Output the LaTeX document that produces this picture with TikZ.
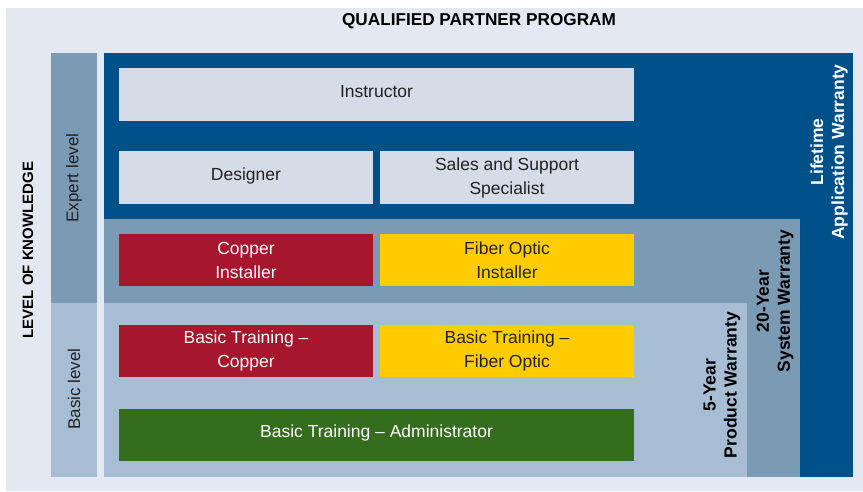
\documentclass[tikz,border=0pt]{standalone}
\usepackage{fontspec}
\setmainfont{Liberation Sans}
\definecolor{qppback}{HTML}{E4E8F0}
\definecolor{qppdark}{HTML}{00508A}
\definecolor{qppmid}{HTML}{7B9AB4}
\definecolor{qpplight}{HTML}{A6BDD3}
\definecolor{qppgrey}{HTML}{D5DCE7}
\definecolor{qppred}{HTML}{A6162D}
\definecolor{qppyellow}{HTML}{FFCC00}
\definecolor{qppgreen}{HTML}{356D1E}
\definecolor{qpptext}{HTML}{222222}

\begin{document}
\begin{tikzpicture}[x=1pt,y=-1pt,
		tile/.style={inner sep=0pt,align=center,minimum height=53pt,
			font=\fontsize{17.5}{24}\selectfont},
		half/.style={tile,minimum width=254pt},
		full/.style={tile,minimum width=515pt},
		oneline/.style={text depth=7pt},
		warranty/.style={rotate=90,align=center,font=\bfseries\fontsize{17.5}{21}\selectfont},
		level/.style={rotate=90,font=\fontsize{17}{20}\selectfont,text=qpptext}]
	\useasboundingbox (0,0) rectangle (863,491);
	\fill[qppback] (6,8) rectangle (863,491);
	\fill[qppmid] (51,53) rectangle (97,303);
	\fill[qpplight] (51,303) rectangle (97,477);
	\fill[qppdark] (104,53) rectangle (853,477);
	\fill[qppmid] (104,219) rectangle (800,477);
	\fill[qpplight] (104,303) rectangle (747,477);

	\node[font=\bfseries\fontsize{17.2}{20}\selectfont] (title) at (479,21) {QUALIFIED PARTNER PROGRAM};
	\node[rotate=90,font=\bfseries\fontsize{15}{18}\selectfont] (knowledge) at (28,250) {LEVEL OF KNOWLEDGE};
	\node[level] (expert) at (74,178) {Expert level};
	\node[level] (basic) at (74,389) {Basic level};

	\node[full,oneline,fill=qppgrey,text=qpptext] (instructor) at (376.5,94.5) {Instructor};
	\node[half,oneline,fill=qppgrey,text=qpptext] (designer) at (246,177.5) {Designer};
	\node[half,fill=qppgrey,text=qpptext] (sales) at (507,177.5) {Sales and Support\\Specialist};
	\node[half,fill=qppred,text=white,minimum height=52pt] (copper) at (246,260) {Copper\\Installer};
	\node[half,fill=qppyellow,text=qpptext,minimum height=52pt] (fiber) at (507,260) {Fiber Optic\\Installer};
	\node[half,fill=qppred,text=white,minimum height=52pt] (basiccopper) at (246,351) {Basic Training --\\Copper};
	\node[half,fill=qppyellow,text=qpptext,minimum height=52pt] (basicfiber) at (507,351) {Basic Training --\\Fiber Optic};
	\node[full,oneline,fill=qppgreen,text=white,minimum height=52pt] (admin) at (376.5,435) {Basic Training -- Administrator};

	\node[warranty,text=white] (lifetime) at (829,152) {Lifetime\\Application Warranty};
	\node[warranty] (system) at (775,301) {20-Year\\System Warranty};
	\node[warranty] (product) at (722,385) {5-Year\\Product Warranty};
\end{tikzpicture}
\end{document}
